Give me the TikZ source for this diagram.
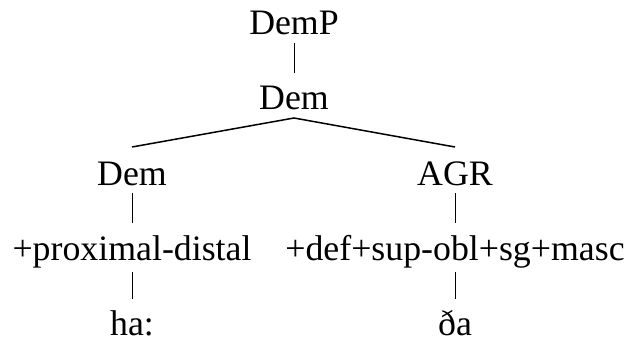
\documentclass[tikz,border=0pt]{standalone}
\usepackage{fontspec}
\setmainfont{Liberation Serif}
\begin{document}
\begin{tikzpicture}[x=1pt,y=-1pt,
  lbl/.style={anchor=base,inner sep=0pt,font=\fontsize{35.8}{40}\selectfont},
  stem/.style={line width=1pt},
  branch/.style={line width=1.5pt}]
\useasboundingbox (0,0) rectangle (624,337);
\node[lbl] (demp) at (294,35) {DemP};
\node[lbl] (dem) at (294,110) {Dem};
\node[lbl] (deml) at (132,185) {Dem};
\node[lbl] (agr) at (455,185) {AGR};
\node[lbl] (prox) at (132,260) {+proximal-distal};
\node[lbl] (def) at (455,260) {+def+sup-obl+sg+masc};
\node[lbl] (ha) at (132,335) {ha:};
\node[lbl] (da) at (455,335) {ða};
\draw[stem] ([yshift=-8pt]demp.base) -- ([yshift=37pt]dem.base);
\draw[branch] ([yshift=38pt]deml.base) -- ([yshift=-8pt]dem.base) -- ([yshift=38pt]agr.base);
\draw[stem] ([yshift=-8pt]deml.base) -- ([yshift=37pt]prox.base);
\draw[stem] ([yshift=-8pt]agr.base) -- ([yshift=37pt]def.base);
\draw[stem] ([yshift=-12pt]prox.base) -- ([yshift=36pt]ha.base);
\draw[stem] ([yshift=-12pt]def.base) -- ([yshift=36pt]da.base);
\end{tikzpicture}
\end{document}
